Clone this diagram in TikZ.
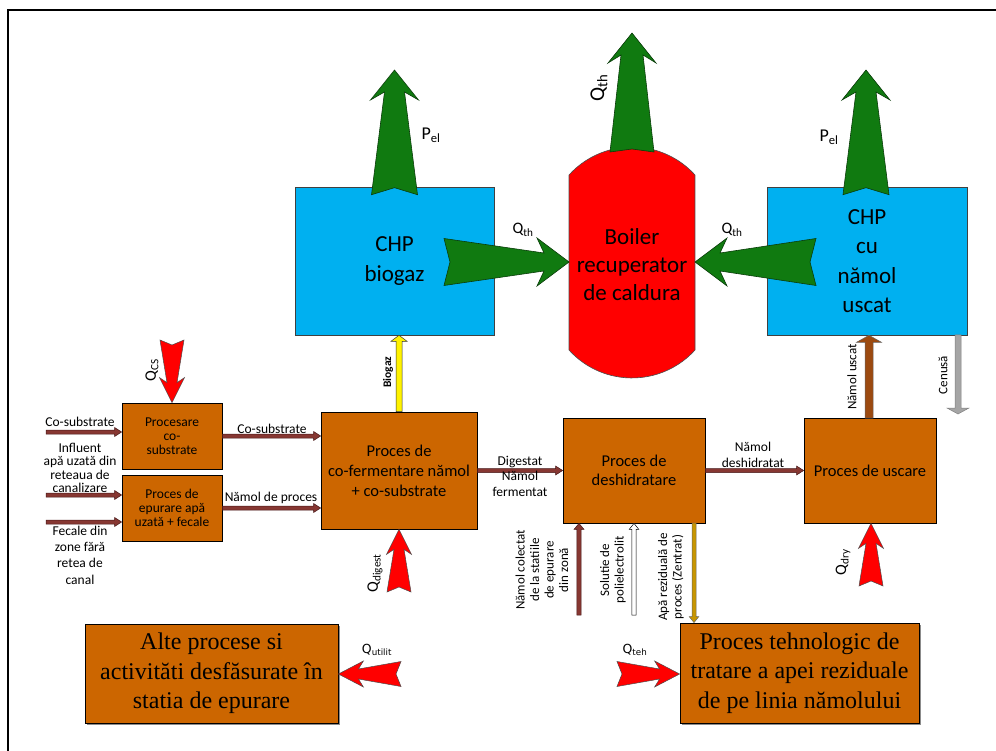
\documentclass[tikz,border=0pt]{standalone}
\usepackage{fontspec}
\setmainfont{Carlito}
\newfontfamily\tnr{Liberation Serif}
\newfontfamily\dvs{DejaVu Sans}
\usetikzlibrary{calc}
\definecolor{boxor}{RGB}{204,102,0}
\definecolor{chpcyan}{RGB}{0,176,240}
\definecolor{boilred}{RGB}{255,0,0}
\definecolor{grn}{RGB}{16,122,16}
\definecolor{grnd}{RGB}{10,60,10}
\definecolor{flowbr}{RGB}{135,55,50}
\definecolor{flowbrd}{RGB}{70,25,25}
\definecolor{usbr}{RGB}{156,74,16}
\definecolor{ashgray}{RGB}{165,165,165}
\definecolor{gold}{RGB}{200,150,0}
% block arrow: opts, from, to, shaft half, head half, head length
\newcommand{\blkarrow}[6]{%
  \path[#1] let \p1=(#2), \p2=(#3), \n1={atan2(\y2-\y1,\x2-\x1)}, \n2={veclen(\x2-\x1,\y2-\y1)} in
  {[shift={(\p1)},rotate=\n1]
   (0pt,-#4pt) -- ({(\n2-#6)*1pt},-#4pt) -- ({(\n2-#6)*1pt},-#5pt) -- ({\n2*1pt},0pt)
   -- ({(\n2-#6)*1pt},#5pt) -- ({(\n2-#6)*1pt},#4pt) -- (0pt,#4pt) -- cycle};}
% fat notched arrow: opts, from, to, tail half, neck half, barb half, neck dist, barb back, notch
\newcommand{\fatarrow}[9]{%
  \path[#1] let \p1=(#2), \p2=(#3), \n1={atan2(\y2-\y1,\x2-\x1)}, \n2={veclen(\x2-\x1,\y2-\y1)} in
  {[shift={(\p1)},rotate=\n1]
   (0pt,-#4pt) -- ({(\n2-#7)*1pt},-#5pt) -- ({(\n2-#7-#8)*1pt},-#6pt) -- ({\n2*1pt},0pt)
   -- ({(\n2-#7-#8)*1pt},#6pt) -- ({(\n2-#7)*1pt},#5pt) -- (0pt,#4pt) -- (#9pt,0pt) -- cycle};}
\begin{document}
\begin{tikzpicture}[x=1pt,y=-1pt,
  box/.style={draw=black, line width=0.8pt, fill=boxor, align=center, inner sep=1pt},
  sbox/.style={box, preaction={fill=black!45, transform canvas={shift={(2pt,-2pt)}}}},
  chp/.style={draw=black!75, line width=0.6pt, fill=chpcyan, align=center, inner sep=1pt,
    font=\fontsize{23}{29.5}\selectfont},
  lbl/.style={inner sep=0.5pt, align=center, font=\fontsize{13.5}{14}\selectfont},
  rlbl/.style={lbl, rotate=90, font=\fontsize{13}{14.5}\selectfont},
  greenst/.style={fill=grn, draw=grnd, line width=0.6pt},
  redst/.style={fill=red, draw=black!70, line width=0.5pt},
  brst/.style={fill=flowbr, draw=flowbrd, line width=0.5pt}]
\useasboundingbox (0,0) rectangle (996,751);
\draw[line width=2.6pt] (8,751) -- (8,10) -- (996,10);

% upper units
\node[chp, minimum width=199pt, minimum height=148pt] (chpA) at (394.5,261) {CHP\\biogaz};
\node[chp, minimum width=200pt, minimum height=148pt] (chpB) at (867,261) {CHP\\cu\\nămol\\uscat};
\draw[fill=boilred, draw=black!70, line width=0.6pt] (569,175) arc[start angle=137.9,end angle=42.1,radius=84.9pt]
  -- (695,350) arc[start angle=-42.1,end angle=-137.9,radius=84.9pt] -- cycle;
\node[align=center, inner sep=0pt, font=\fontsize{23}{28}\selectfont] (boil) at (632,265) {Boiler\\recuperator\\de caldura};
\coordinate (bL) at (569,262);
\coordinate (bR) at (695,262);

% green arrows
\coordinate (pelA) at (394.5,70);
\coordinate (pelB) at (866,70);
\coordinate (qthT) at (632,33);
\coordinate (qthTb) at (632,152);
\coordinate (qthA) at (444,262);
\coordinate (qthB) at (816,262);
\fatarrow{greenst}{$(chpA.north)+(0,8)$}{pelA}{23}{10}{24}{22}{8}{7}
\fatarrow{greenst}{$(chpB.north)+(-1,8)$}{pelB}{23}{10}{24}{22}{8}{7}
\fatarrow{greenst}{qthTb}{qthT}{22}{11}{24}{22}{8}{3}
\fatarrow{greenst}{qthA}{bL}{23.5}{9}{24}{25}{7}{6}
\fatarrow{greenst}{qthB}{bR}{23.5}{9}{24}{25}{7}{6}
\node[inner sep=0pt, font=\fontsize{18}{20}\selectfont] (lpA) at (431,135) {P\textsubscript{el}};
\node[inner sep=0pt, font=\fontsize{18}{20}\selectfont] (lpB) at (829,137) {P\textsubscript{el}};
\node[inner sep=0pt, rotate=90, font=\fontsize{21}{22}\selectfont] (lqT) at (599,88) {Q\textsubscript{th}};
\node[inner sep=0pt, font=\fontsize{16}{18}\selectfont] (lqA) at (523,230) {Q\textsubscript{th}};
\node[inner sep=0pt, font=\fontsize{16}{18}\selectfont] (lqB) at (732,230) {Q\textsubscript{th}};

% process boxes
\node[box, minimum width=100pt, minimum height=66pt, font=\fontsize{13.5}{14}\selectfont] (pcs) at (172,436) {Procesare\\co-\\substrate};
\node[box, minimum width=100pt, minimum height=66pt, font=\fontsize{13.5}{14}\selectfont] (epur) at (172,508) {Proces de\\epurare apă\\uzată + fecale};
\node[box, minimum width=156pt, minimum height=117pt, font=\fontsize{16.5}{20}\selectfont] (cofer) at (399,470.5) {Proces de\\co-fermentare nămol\\+ co-substrate};
\node[box, minimum width=142pt, minimum height=105pt, font=\fontsize{16.5}{19.5}\selectfont] (desh) at (634,470.5) {Proces de\\deshidratare};
\node[box, minimum width=132pt, minimum height=105pt, font=\fontsize{16.5}{19.5}\selectfont] (usc) at (870,470.5) {Proces de uscare};
\node[sbox, minimum width=253pt, minimum height=99pt, font=\tnr\fontsize{24}{29.5}\selectfont] (alte) at (211.5,673.5) {Alte procese si\\activităti desfăsurate în\\statia de epurare};
\node[sbox, minimum width=239pt, minimum height=100pt, font=\tnr\fontsize{24}{29.5}\selectfont] (teh) at (799.5,673) {Proces tehnologic de\\tratare a apei reziduale\\de pe linia nămolului};

% inputs on the left
\coordinate (in1) at (46,432);
\coordinate (in2) at (46,495);
\coordinate (in3) at (46,522);
\blkarrow{brst}{in1}{pcs.west |- in1}{2}{4.5}{7}
\blkarrow{brst}{in2}{epur.west |- in2}{2}{4.5}{7}
\blkarrow{brst}{in3}{epur.west |- in3}{2}{4.5}{7}
\node[lbl] (lin1) at (80,422) {Co-substrate};
\node[lbl, font=\fontsize{13.5}{13.4}\selectfont] (lin2) at (80,468) {Influent\\apă uzată din\\reteaua de\\canalizare};
\node[lbl, font=\fontsize{13.5}{16.3}\selectfont] (lin3) at (80,555) {Fecale din\\zone fără\\retea de\\canal};

% internal flows
\blkarrow{brst}{pcs.east}{pcs.east -| cofer.west}{2}{4.5}{7}
\blkarrow{brst}{epur.east}{epur.east -| cofer.west}{2}{4.5}{7}
\node[lbl] (lcs) at (272,429) {Co-substrate};
\node[lbl] (lnp) at (271,498) {Nămol de proces};
\blkarrow{brst}{cofer.east}{desh.west}{2}{4.5}{7}
\node[lbl] (ldig) at (520,462) {Digestat};
\node[lbl, font=\fontsize{13.5}{16}\selectfont] (lnf) at (520,484) {Nămol\\fermentat};
\blkarrow{brst}{desh.east}{usc.west}{2}{4.5}{7}
\node[lbl, font=\fontsize{13.5}{16}\selectfont] (lnd) at (753,455) {Nămol\\deshidratat};

% biogas
\blkarrow{fill=yellow, draw=black!80, line width=0.5pt}{cofer.north}{cofer.north |- chpA.south}{3}{8}{6}
\node[rlbl, font=\bfseries\fontsize{11.5}{13}\selectfont] (lbio) at (388,372) {Biogaz};

% dried sludge and ash
\coordinate (usT) at (869,418);
\blkarrow{fill=usbr, draw=black!60, line width=0.5pt}{usT}{usT |- chpB.south}{4}{12.5}{7}
\node[rlbl] (lnu) at (852,377) {Nămol uscat};
\coordinate (cenS) at (958,335);
\coordinate (cenE) at (958,414);
\blkarrow{fill=ashgray, draw=black!50, line width=0.5pt}{cenS}{cenE}{3}{11}{6}
\node[rlbl] (lcen) at (943,375) {Cenusă};

% under dewatering
\coordinate (nc0) at (579,615);
\coordinate (sp0) at (634,615);
\coordinate (az0) at (694,523);
\blkarrow{brst}{nc0}{nc0 |- desh.south}{2.2}{5}{6}
\blkarrow{fill=white, draw=black, line width=0.5pt}{sp0}{sp0 |- desh.south}{2.2}{4.8}{6}
\blkarrow{fill=gold, draw=black!60, line width=0.5pt}{az0}{az0 |- teh.north}{2}{4.8}{6}
\node[rlbl] (lnc) at (542,570) {Nămol colectat\\de la statiile\\de epurare\\din zonă};
\node[rlbl] (lsp) at (613,570) {Solutie de\\polielectrolit};
\node[rlbl] (laz) at (671,577) {Apă reziduală de\\proces (Zentrat)};

% red heat inputs
\coordinate (qcs0) at (172,340);
\coordinate (qdg0) at (399,592);
\coordinate (qdr0) at (871,586);
\coordinate (qut0) at (401,674);
\coordinate (qth0) at (617,674);
\fatarrow{redst}{qcs0}{pcs.north}{12}{5}{12.5}{20}{5}{5}
\fatarrow{redst}{qdg0}{cofer.south}{12}{5}{12.5}{20}{5}{5}
\fatarrow{redst}{qdr0}{qdr0 |- usc.south}{12}{5}{12.5}{20}{5}{5}
\fatarrow{redst}{qut0}{qut0 -| alte.east}{12.5}{5}{13}{20}{5}{5}
\fatarrow{redst}{qth0}{qth0 -| teh.west}{12.5}{5}{13}{20}{5}{5}
\node[inner sep=0pt, rotate=90, font=\fontsize{16}{18}\selectfont] (lqcs) at (152,370) {Q\textsubscript{CS}};
\node[inner sep=0pt, rotate=90, font=\fontsize{16}{18}\selectfont] (lqdg) at (375,573) {Q\textsubscript{digest}};
\node[inner sep=0pt, rotate=90, font=\fontsize{16}{18}\selectfont] (lqdr) at (843,562) {Q\textsubscript{dry}};
\node[inner sep=0pt, font=\dvs\fontsize{12.5}{14}\selectfont] (lqut) at (377,650) {Q\textsubscript{utilit}};
\node[inner sep=0pt, font=\dvs\fontsize{12.5}{14}\selectfont] (lqte) at (635,650) {Q\textsubscript{teh}};
\end{tikzpicture}
\end{document}
